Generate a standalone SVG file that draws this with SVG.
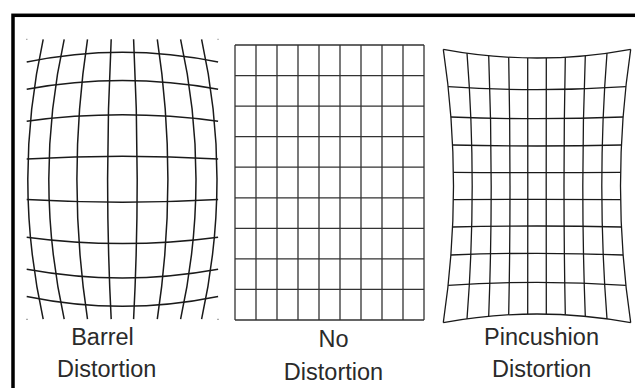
<svg xmlns="http://www.w3.org/2000/svg" width="635" height="388" viewBox="0 0 635 388">
<style>
.frame{fill:none;stroke:#000;stroke-width:3.5}
.grid{fill:none;stroke:#1a1a1a;stroke-width:1.5}
.flat{fill:none;stroke:#333;stroke-width:1.3}
.pin{fill:none;stroke:#1a1a1a;stroke-width:1.3}
.dot{stroke:#999;stroke-width:1}
.lbl{font-family:"Liberation Sans",Arial,sans-serif;font-size:23.5px;fill:#2a2a2a;text-anchor:middle}
</style>
<rect width="635" height="388" fill="#fff"/>
<rect class="frame" x="13" y="15.3" width="700" height="500"/>

<g id="barrel">
<path class="grid" d="M111.2,39.3 Q104,179.2 111.2,319.1 M133.6,39.3 Q140.8,179.2 133.6,319.1 M87.5,39.3 Q66.3,179.2 87.5,319.1 M157.3,39.3 Q178.5,179.2 157.3,319.1 M64.2,39.3 Q33.4,179.2 64.2,319.1 M180.6,39.3 Q211.4,179.2 180.6,319.1 M43.2,39.3 Q12.4,179.2 43.2,319.1 M201.6,39.3 Q232.4,179.2 201.6,319.1"/>
<path class="grid" d="M26.7,158.9 Q122.4,153.5 218.1,158.9 M26.7,199.5 Q122.4,204.9 218.1,199.5 M26.7,121.2 Q122.4,108.4 218.1,121.2 M26.7,237.2 Q122.4,250 218.1,237.2 M26.7,89.2 Q122.4,71.8 218.1,89.2 M26.7,269.2 Q122.4,286.6 218.1,269.2 M26.7,62 Q122.4,42.4 218.1,62 M26.7,296.4 Q122.4,316 218.1,296.4"/>
<path class="dot" d="M26,39.3h1.5 M217.3,39.3h1.5 M26,319.3h2 M217,319.3h2"/>
<text class="lbl" x="102.5" y="345">Barrel</text>
<text class="lbl" x="106.7" y="377">Distortion</text>
</g>

<g id="none">
<path class="flat" d="M235,45V320 M256,45V320 M277,45V320 M298,45V320 M319,45V320 M340,45V320 M361,45V320 M382,45V320 M403,45V320 M424,45V320"/>
<path class="flat" d="M235,45H424 M235,75.56H424 M235,106.11H424 M235,136.67H424 M235,167.22H424 M235,197.78H424 M235,228.33H424 M235,258.89H424 M235,289.44H424 M235,320H424"/>
<text class="lbl" x="333.5" y="346.5">No</text>
<text class="lbl" x="333.5" y="380">Distortion</text>
</g>

<g id="pincushion">
<path class="pin" d="M527.7,57.9 Q527.9,186 527.7,314.1 M546.3,57.9 Q546.1,186 546.3,314.1 M508.7,57.2 Q511.3,186 508.7,314.8 M565.3,57.2 Q562.7,186 565.3,314.8 M488.7,55.7 Q493.7,186 488.7,316.3 M585.3,55.7 Q580.3,186 585.3,316.3 M467,53.1 Q477.4,186 467,318.9 M607,53.1 Q596.6,186 607,318.9 M443.3,49.3 Q463.7,186 443.3,322.7 M630.7,49.3 Q610.3,186 630.7,322.7"/>
<path class="pin" d="M453.4,172.4 Q537,173 620.6,172.4 M453.4,199.6 Q537,199 620.6,199.6 M452.6,145 Q537,147 621.4,145 M452.6,227 Q537,225 621.4,227 M450.9,117 Q537,120.4 623.1,117 M450.9,255 Q537,251.6 623.1,255 M448.1,86.7 Q537,92.7 625.9,86.7 M448.1,285.3 Q537,279.3 625.9,285.3 M443.3,49.3 Q537,66.7 630.7,49.3 M443.3,322.7 Q537,305.3 630.7,322.7"/>
<text class="lbl" x="541.5" y="345">Pincushion</text>
<text class="lbl" x="541.7" y="377">Distortion</text>
</g>
</svg>
